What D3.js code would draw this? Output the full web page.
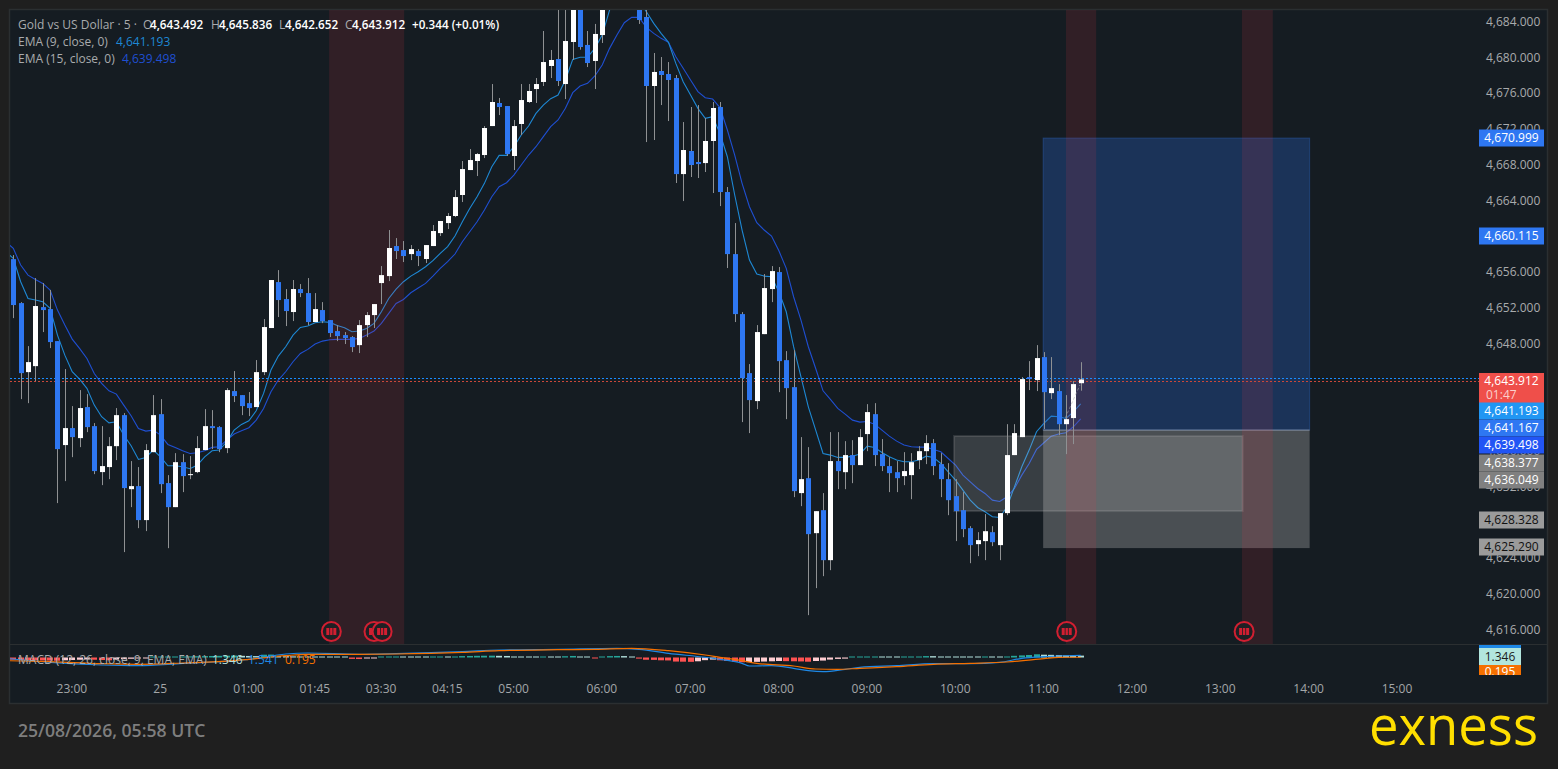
<!DOCTYPE html>
<html><head><meta charset="utf-8">
<script src="https://d3js.org/d3.v7.min.js"></script>
<style>
html,body{margin:0;padding:0;background:#1f1f1f;overflow:hidden}
svg{display:block}
text{font-family:"Open Sans",sans-serif}
</style></head><body>
<svg id="c" width="1558" height="769"></svg>
<script>
const opens=[4657.37,4652.45,4644.73,4645.40,4652.00,4651.78,4648.20,4636.57,4638.47,4637.35,
4640.82,4638.69,4633.55,4634.11,4636.45,4639.92,4631.64,4631.98,4628.18,4635.78,
4640.03,4632.32,4629.63,4634.66,4633.21,4633.55,4636.01,4638.69,4638.58,4636.23,
4642.61,4642.16,4641.26,4640.82,4644.73,4649.66,4654.80,4652.90,4651.45,4654.02,
4653.57,4650.33,4651.67,4650.55,4649.32,4648.87,4648.65,4647.75,4649.99,4651.11,
4654.69,4655.47,4658.83,4658.38,4657.93,4658.27,4657.38,4658.83,4660.28,4661.40,
4662.19,4664.54,4667.33,4668.34,4669.01,4672.25,4674.83,4674.49,4668.90,4672.48,
4674.94,4676.39,4677.18,4678.97,4679.75,4676.95,4681.65,4687.00,4681.32,4679.53,
4682.43,4686.50,4689.00,4692.00,4691.00,4688.00,4684.45,4676.73,4678.41,4678.07,
4677.62,4666.88,4669.46,4668.23,4668.11,4670.58,4674.38,4664.87,4657.93,4651.22,
4644.62,4641.49,4648.98,4654.02,4655.92,4646.07,4643.05,4631.20,4632.87,4626.72,
4629.29,4623.70,4634.78,4633.54,4635.45,4634.33,4637.80,4640.03,4635.56,4634.22,
4633.54,4633.10,4633.21,4634.89,4635.89,4636.79,4634.44,4632.76,4630.86,4629.29,
4627.28,4625.49,4625.83,4626.83,4625.38,4628.96,4635.45,4637.46,4644.17,4643.84,
4646.41,4642.38,4642.61,4638.91,4639.59,4643.49];
const closes=[4652.23,4644.62,4645.85,4652.12,4651.67,4648.09,4636.12,4638.47,4637.46,4640.71,
4638.58,4633.66,4634.22,4636.45,4639.92,4631.76,4631.98,4628.18,4636.01,4639.92,
4632.20,4629.63,4634.66,4633.10,4633.32,4636.23,4638.69,4638.47,4636.12,4642.72,
4642.05,4640.93,4640.71,4644.73,4649.77,4655.03,4652.79,4651.56,4654.02,4653.57,
4650.33,4651.78,4650.44,4649.10,4648.76,4648.54,4647.53,4649.99,4651.11,4652.34,
4655.58,4658.61,4658.27,4657.71,4658.49,4657.71,4658.94,4660.51,4661.63,4662.19,
4664.31,4667.44,4668.45,4669.12,4672.03,4674.94,4674.38,4669.12,4672.25,4675.16,
4676.17,4676.95,4679.41,4679.64,4677.29,4681.76,4687.00,4681.09,4679.30,4682.55,
4687.00,4689.00,4692.00,4691.00,4688.00,4684.11,4676.73,4678.30,4677.96,4677.40,
4666.88,4669.57,4667.89,4668.00,4670.58,4674.27,4664.87,4657.93,4651.22,4644.06,
4641.60,4649.21,4654.13,4656.03,4645.96,4642.94,4631.42,4632.76,4626.61,4629.18,
4623.70,4634.78,4633.66,4635.45,4634.33,4637.46,4640.26,4635.45,4634.22,4633.43,
4632.87,4633.66,4634.66,4635.89,4636.79,4634.22,4632.76,4630.41,4629.18,4627.17,
4625.38,4625.94,4626.94,4625.71,4628.96,4635.45,4637.91,4643.95,4643.95,4646.30,
4642.49,4642.94,4638.91,4639.47,4643.39,4643.91];
const highs=[4657.82,4652.56,4647.64,4655.25,4654.69,4653.91,4648.20,4645.07,4640.93,4642.72,
4642.27,4639.03,4638.69,4637.46,4640.71,4640.15,4634.78,4634.11,4636.68,4642.16,
4641.71,4633.21,4635.67,4635.56,4635.34,4637.57,4640.59,4640.48,4638.69,4642.94,
4644.85,4642.16,4642.50,4646.08,4650.66,4655.03,4656.14,4654.02,4655.03,4654.58,
4655.25,4653.57,4652.56,4650.55,4649.99,4649.21,4648.76,4650.55,4651.45,4652.34,
4656.59,4660.62,4659.72,4659.39,4658.94,4658.49,4658.94,4661.18,4661.63,4662.52,
4665.09,4668.34,4669.68,4669.23,4672.25,4676.95,4675.39,4674.49,4672.93,4676.95,
4676.95,4677.62,4682.88,4680.76,4686.00,4686.50,4688.00,4688.00,4682.88,4683.67,
4688.00,4690.00,4693.00,4694.00,4692.50,4689.00,4685.50,4680.42,4679.97,4679.41,
4677.96,4672.70,4674.38,4674.60,4673.15,4674.94,4674.94,4665.43,4661.40,4651.44,
4645.63,4649.99,4655.70,4656.59,4656.48,4647.08,4647.19,4637.46,4636.34,4629.18,
4631.20,4638.02,4638.02,4637.01,4637.12,4638.36,4641.15,4641.26,4637.24,4635.22,
4634.78,4635.78,4635.67,4636.45,4637.68,4637.24,4635.67,4634.55,4632.76,4631.31,
4627.50,4626.83,4628.85,4627.50,4628.96,4638.91,4638.91,4644.17,4645.96,4647.75,
4646.97,4646.41,4643.39,4642.16,4643.73,4645.84];
const lows=[4650.77,4641.71,4641.26,4643.73,4649.21,4647.42,4630.08,4632.54,4635.22,4636.34,
4638.02,4633.32,4632.09,4632.76,4634.89,4624.60,4629.63,4627.28,4626.95,4635.78,
4631.20,4625.04,4629.63,4631.31,4632.76,4633.43,4636.01,4636.12,4635.78,4635.67,
4641.38,4639.92,4639.81,4640.82,4644.40,4649.66,4650.89,4649.88,4650.44,4653.12,
4649.99,4650.33,4650.21,4648.65,4648.20,4647.87,4646.97,4646.86,4648.65,4649.66,
4652.34,4654.91,4657.38,4657.04,4657.26,4656.59,4656.93,4658.83,4659.95,4660.73,
4662.07,4663.75,4667.33,4666.66,4668.67,4672.25,4673.48,4668.90,4667.33,4671.25,
4674.83,4674.83,4676.73,4677.62,4676.73,4675.27,4679.64,4680.79,4678.85,4676.39,
4681.54,4685.60,4688.00,4690.00,4687.00,4683.67,4670.46,4670.69,4674.60,4672.81,
4665.88,4663.86,4666.55,4666.44,4667.11,4664.76,4663.30,4656.37,4650.33,4639.14,
4637.91,4640.59,4648.98,4652.56,4642.49,4639.47,4630.75,4629.74,4617.55,4620.57,
4621.91,4622.58,4631.64,4631.64,4632.31,4634.33,4635.89,4634.22,4633.66,4631.31,
4631.31,4632.09,4630.52,4633.88,4634.44,4633.21,4630.75,4628.73,4625.83,4626.27,
4623.36,4624.15,4623.70,4625.27,4623.70,4628.73,4635.45,4637.46,4642.72,4642.61,
4638.36,4641.71,4637.68,4635.56,4636.68,4642.65];
// first entry of each EMA sits one bar left of the first candle
const ema9=[4658.19,4657.45,4654.84,4652.97,4652.79,4652.60,4651.86,4648.87,4646.63,4644.77,4643.95,
4642.91,4641.04,4639.74,4639.06,4639.18,4637.69,4636.49,4634.96,4635.19,4636.01,
4635.26,4634.25,4634.25,4634.14,4633.92,4634.33,4635.26,4635.93,4636.01,4636.94,
4638.24,4638.88,4639.29,4640.41,4642.35,4644.96,4646.52,4647.57,4648.87,4649.73,
4649.88,4650.25,4650.36,4650.29,4649.95,4649.69,4649.25,4649.32,4649.62,4650.18,
4651.48,4652.97,4654.00,4654.84,4655.47,4655.96,4656.52,4657.19,4658.01,4658.76,
4659.95,4661.55,4663.04,4664.35,4665.84,4667.70,4668.97,4668.97,4669.94,4671.25,
4672.25,4673.67,4674.60,4675.31,4675.72,4677.40,4679.71,4679.94,4679.94,4680.94,
4682.43,4685.23,4687.00,4688.00,4688.00,4686.30,4685.04,4683.74,4682.62,4681.61,
4679.26,4677.21,4675.72,4674.23,4673.11,4673.30,4671.43,4668.82,4664.54,4660.62,
4657.26,4655.70,4655.47,4655.40,4653.72,4651.48,4647.57,4644.21,4640.85,4638.24,
4635.63,4635.45,4635.19,4635.19,4635.33,4635.56,4636.45,4636.30,4635.74,4635.26,
4634.89,4634.70,4634.70,4634.89,4635.33,4635.19,4634.51,4633.58,4632.65,4631.53,
4630.41,4629.59,4629.11,4628.55,4628.47,4629.67,4631.90,4634.14,4636.01,4638.06,
4638.99,4639.81,4639.73,4639.55,4640.29,4641.19];
const ema15=[4659.31,4658.57,4656.70,4655.58,4655.10,4654.65,4653.91,4651.67,4649.99,4648.42,4647.38,
4646.26,4644.58,4643.47,4642.64,4642.27,4641.04,4639.85,4638.43,4638.13,4638.24,
4637.69,4636.64,4636.31,4635.93,4635.63,4635.71,4635.93,4636.31,4636.38,4637.13,
4637.80,4638.17,4638.51,4639.36,4640.67,4642.53,4643.84,4644.77,4645.89,4646.82,
4647.27,4647.87,4648.20,4648.35,4648.39,4648.39,4648.39,4648.50,4648.87,4649.32,
4650.18,4651.30,4652.41,4652.86,4653.61,4654.13,4654.65,4655.47,4656.33,4657.08,
4657.94,4659.31,4660.43,4661.55,4662.86,4664.35,4665.47,4665.91,4666.77,4667.89,
4669.01,4669.94,4671.06,4672.18,4672.93,4674.23,4675.98,4676.73,4677.03,4677.85,
4679.08,4680.94,4682.43,4683.81,4684.41,4684.41,4683.29,4682.62,4682.06,4681.61,
4680.01,4678.71,4677.40,4676.10,4675.42,4675.27,4674.31,4671.81,4669.01,4665.84,
4663.23,4661.44,4660.62,4659.95,4658.30,4656.33,4653.16,4650.55,4647.57,4645.14,
4642.64,4641.67,4640.67,4640.03,4639.36,4639.14,4639.21,4638.91,4638.24,4637.57,
4637.01,4636.57,4636.38,4636.34,4636.34,4636.08,4635.82,4635.07,4634.33,4633.21,
4632.46,4631.72,4631.16,4630.41,4630.26,4630.79,4631.72,4633.21,4634.51,4636.08,
4636.83,4637.57,4637.80,4637.94,4638.62,4639.50];
const histogram=[-1.6,-1.8,-1.9,-2.0,-2.1,-2.2,-2.3,-2.0,-1.8,-1.6,
-1.4,-1.6,-1.8,-2.0,-1.5,-1.2,-0.9,-0.6,-0.4,0.3,
0.4,0.5,0.6,0.7,0.8,0.9,1.0,1.1,1.2,1.3,
1.4,1.2,1.1,1.0,2.0,2.1,1.0,0.9,0.8,0.7,
0.6,0.5,0.45,0.4,0.35,0.3,-1.0,-1.1,-0.5,-0.35,
0.3,0.35,0.4,0.35,0.33,0.3,0.28,0.3,0.35,0.3,
0.35,1.0,1.1,1.2,1.25,1.3,1.2,1.1,0.4,0.35,
0.33,0.3,0.35,0.33,0.3,0.9,1.1,0.5,0.4,-0.4,
0.3,1.0,1.1,1.0,0.3,-0.8,-1.6,-1.7,-2.0,-2.1,
-2.9,-3.0,-3.1,-2.7,-1.9,-1.5,-2.0,-2.5,-3.0,-3.4,
-3.3,-3.1,-2.9,-2.7,-2.5,-2.6,-2.7,-2.8,-3.0,-2.5,
-2.2,-1.5,-1.0,-0.8,0.3,0.5,0.6,0.7,0.6,0.5,
0.4,0.5,0.55,0.6,1.0,0.95,0.5,0.45,0.4,0.3,
0.28,0.25,0.3,0.28,0.26,0.7,1.2,1.5,1.8,2.3,
2.0,1.9,1.7,1.5,1.4,1.346];
const macdBars=[-1,5,12,17,23,30,32,37,40,47,52,61,66,74,82,85,89,94,96,99,100,103,106,108,110,113,115,120,125,130,134,137,140,142,145];
const macdLine=[-0.59,-3.45,-5.35,-5.83,-4.16,-2.26,-1.31,2.50,3.22,2.27,2.74,4.17,5.36,5.84,6.55,5.84,2.98,0.12,-1.31,-4.16,-6.07,-5.83,-7.73,-9.40,-10.12,-8.45,-7.02,-5.83,-4.40,-4.40,-3.45,-0.59,0.60,1.07,1.541];
const signalBars=[-1,5,12,17,23,30,32,37,40,47,52,61,66,74,79,84,89,94,96,99,101,106,109,112,115,120,125,130,135,140,142,145];
const signalLine=[-2.26,-2.97,-4.40,-4.88,-3.93,-2.26,-1.31,1.31,2.27,2.27,2.50,3.69,4.88,5.60,5.84,6.55,4.88,1.79,0.12,-2.26,-4.16,-6.07,-8.21,-8.45,-7.73,-6.54,-4.88,-4.16,-3.21,-0.83,0.12,0.195];
const priceTicks=d3.range(4616,4685,4);
const timeBars=[8,20,32,41,50,59,68,80,92,104,116,128,140,152,164,176,188];
const timeLabels=["23:00","25","01:00","01:45","03:30","04:15","05:00","06:00","07:00","08:00","09:00","10:00","11:00","12:00","13:00","14:00","15:00"];
const sessionBands=[[42.9,53.1],[143,147.1],[166.9,171.1]];
const markerBars=[43.2,49,50.1,143.1,167.2];
const lastPrice=4644.02, askPrice=4643.69;
// position tool (bar index / price extents)
const targetZone={x0:139.9,x1:176.1,top:4670.91,bottom:4638.25};
const stopZone={x0:139.9,x1:176.1,top:4638.25,bottom:4625.05};
const rangeBox={x0:127.8,x1:167,top:4637.58,bottom:4629.19};
// price-axis labels: text, box colour, text colour
const axisLabels=[
 ["4,670.999","#2e77f2","#fff",138],
 ["4,660.115","#2e77f2","#fff",236],
 ["4,641.193","#2196f3","#fff",411],
 ["4,641.167","#2e77f2","#fff",428],
 ["4,639.498","#2255f5","#fff",445],
 ["4,638.377","#808080","#fff",463],
 ["4,636.049","#808080","#fff",480],
 ["4,628.328","#9b9b9b","#111",520],
 ["4,625.290","#9b9b9b","#111",547]];

const svg=d3.select("#c");
const W=1558,H=769,L=10,R=1547,T=10,B=703,MID=644;
const C={page:"#1f1f1f",panel:"#151c22",border:"#2b2f31",up:"#ffffff",down:"#2e77f2",wick:"#8f9193",e9:"#1e88d4",e15:"#1f4fd1",macd:"#1e88e5",sig:"#f57000"};
const x=d3.scaleLinear().domain([0,145]).range([13.3,1080.7]);
const y=d3.scaleLinear().domain([4684,4616]).range([21,629]);
const ym=d3.scaleLinear().domain([0,1]).range([657.5,656.1]);

const defs=svg.append("defs");
defs.append("clipPath").attr("id","main").append("rect").attr("x",L).attr("y",T).attr("width",1469).attr("height",MID-T);
defs.append("clipPath").attr("id","lab").append("rect").attr("x",1470).attr("y",645).attr("width",70).attr("height",30);

svg.append("rect").attr("width",W).attr("height",H).attr("fill",C.page);
svg.append("rect").attr("x",L-.5).attr("y",T-.5).attr("width",R-L+1).attr("height",B-T+1).attr("fill",C.panel).attr("stroke",C.border).attr("stroke-width",1.5);

const gm=svg.append("g").attr("clip-path","url(#main)");
// EMAs
const lineOf=d3.line().x((d,i)=>x(i-1)).y(d=>y(d));
gm.append("path").attr("d",lineOf(ema15)).attr("fill","none").attr("stroke",C.e15).attr("stroke-width",1.1);
gm.append("path").attr("d",lineOf(ema9)).attr("fill","none").attr("stroke",C.e9).attr("stroke-width",1.1);
// zones
const zone=(z,fill)=>gm.append("rect").attr("x",x(z.x0)).attr("width",x(z.x1)-x(z.x0)).attr("y",y(z.top)).attr("height",y(z.bottom)-y(z.top)).attr("fill",fill);
zone(targetZone,"rgba(40,100,200,0.33)").attr("stroke","rgba(50,110,210,0.35)").attr("stroke-width",1);
zone(stopZone,"rgba(200,200,200,0.30)");
zone(rangeBox,"rgba(200,200,200,0.20)").attr("stroke","rgba(200,200,200,0.16)").attr("stroke-width",2);
gm.append("line").attr("x1",x(targetZone.x0)).attr("x2",x(targetZone.x1)).attr("y1",y(targetZone.bottom)).attr("y2",y(targetZone.bottom)).attr("stroke","rgba(200,200,200,.5)");
// bands
gm.selectAll(".band").data(sessionBands).join("rect").attr("x",d=>x(d[0])).attr("width",d=>x(d[1])-x(d[0])).attr("y",T).attr("height",MID-T).attr("fill","rgba(242,54,69,0.13)");
// price lines
[[askPrice,"#c9483a"],[lastPrice,"#1b8cff"]].forEach(([p,c])=>{
 gm.append("line").attr("x1",L).attr("x2",1479).attr("y1",Math.round(y(p))+.5).attr("y2",Math.round(y(p))+.5).attr("stroke",c).attr("stroke-width",1).attr("stroke-dasharray","2 2").attr("shape-rendering","crispEdges");
});
// candles
const bars=d3.range(opens.length);
gm.selectAll(".w").data(bars).join("line").attr("x1",i=>Math.round(x(i))+.5).attr("x2",i=>Math.round(x(i))+.5).attr("y1",i=>y(highs[i])).attr("y2",i=>y(lows[i])).attr("stroke",C.wick).attr("stroke-width",1);
gm.selectAll(".b").data(bars).join("rect").attr("x",i=>Math.round(x(i))-2).attr("width",5)
 .attr("y",i=>y(Math.max(opens[i],closes[i]))).attr("height",i=>Math.max(1,Math.abs(y(opens[i])-y(closes[i]))))
 .attr("fill",i=>closes[i]>=opens[i]?C.up:C.down);
// dashed trace on the last bars
gm.append("line").attr("x1",x(142.9)).attr("x2",x(144.9)).attr("y1",y(4639.6)).attr("y2",y(4643.3)).attr("stroke","rgba(170,170,170,.55)").attr("stroke-dasharray","3 2");
// markers
const mk=gm.selectAll(".m").data(markerBars).join("g").attr("transform",d=>`translate(${x(d)},631.5)`);
mk.append("circle").attr("r",9.5).attr("fill","#1f2024").attr("stroke","#d21f31").attr("stroke-width",2);
mk.append("rect").attr("x",-5).attr("y",-3.5).attr("width",10).attr("height",7).attr("fill","#d21f31");
mk.selectAll(".s").data([-1.6,1.6]).join("rect").attr("x",d=>d-.4).attr("y",-3.5).attr("width",.8).attr("height",7).attr("fill","#1f2024");

// divider
svg.append("line").attr("x1",L).attr("x2",R).attr("y1",MID+.5).attr("y2",MID+.5).attr("stroke",C.border).attr("stroke-width",1);

// MACD
const tone=i=>{const v=histogram[i],p=i?histogram[i-1]:0;return v>=0?(v>=p?"#26a69a":"#b2dfdb"):(v<p?"#ff5252":"#ffcdd2");};
svg.append("g").selectAll("rect").data(bars).join("rect").attr("x",i=>Math.round(x(i))-3).attr("width",6)
 .attr("y",i=>histogram[i]>=0?Math.min(ym(histogram[i]),ym(0)-1):ym(0))
 .attr("height",i=>Math.max(1,Math.abs(ym(histogram[i])-ym(0)))).attr("fill",tone);
const mline=(b,v,c)=>svg.append("path").attr("d",d3.line().x((d,i)=>x(b[i])).y(d=>ym(d)).curve(d3.curveMonotoneX)(v)).attr("fill","none").attr("stroke",c).attr("stroke-width",1.2);
defs.append("clipPath").attr("id","mc").append("rect").attr("x",L).attr("y",MID).attr("width",1469).attr("height",B-MID);
mline(macdBars,macdLine,C.macd).attr("clip-path","url(#mc)");
mline(signalBars,signalLine,C.sig).attr("clip-path","url(#mc)");

// legends
const lg=svg.append("g").attr("font-size",12);
function seq(yb,parts){parts.forEach(p=>{lg.append("text").attr("x",p[0]).attr("y",yb).attr("fill",p[2]).attr("font-weight",p[3]||400).attr("font-size",p[3]?11.7:12).text(p[1]);});}
const g1="#a9abad",g2="#ffffff";
seq(29,[[18,"Gold vs US Dollar · 5 ·",g1],[143,"O",g1],[150,"4,643.492",g2,600],[211,"H",g1],[219,"4,645.836",g2,600],[279,"L",g1],[285,"4,642.652",g2,600],[345,"C",g1],[352,"4,643.912",g2,600],[412,"+0.344 (+0.01%)",g2,600]]);
seq(46,[[18,"EMA (9, close, 0)",g1],[116,"4,641.193","#1e88d4"]]);
seq(63,[[18,"EMA (15, close, 0)",g1],[122,"4,639.498","#1f4fd1"]]);
seq(664,[[18,"MACD (12, 26, close, 9, EMA, EMA)",g1],[212,"1.346","#b2dfdb"],[248,"1.541","#1e88e5"],[285,"0.195","#f57000"]]);

// price axis
const axR=d3.axisRight(y).tickValues(priceTicks).tickFormat(d3.format(",.3f")).tickSize(0).tickPadding(6);
const ga=svg.append("g").attr("transform","translate(1480,0.4)").call(axR);
ga.select(".domain").remove();
ga.selectAll("text").attr("font-family",'"Open Sans",sans-serif').attr("font-size",12).attr("fill","#a9abad");

// time axis
const axB=d3.axisBottom(x).tickValues(timeBars).tickFormat((d,i)=>timeLabels[i]).tickSize(0).tickPadding(0);
const gt=svg.append("g").attr("transform","translate(-0.8,684.5)").call(axB);
gt.select(".domain").remove();
gt.selectAll("text").attr("font-family",'"Open Sans",sans-serif').attr("font-size",12).attr("fill","#a3a6a8");

// price labels
const box=(txt,fill,col,cy)=>{
 svg.append("rect").attr("x",1479).attr("y",cy-8.5).attr("width",65).attr("height",17).attr("fill",fill);
 svg.append("text").attr("x",1511.5).attr("y",cy+4.2).attr("text-anchor","middle").attr("font-size",12).attr("fill",col).attr("font-weight",500).text(txt);
};
svg.append("rect").attr("x",1479).attr("y",373).attr("width",65).attr("height",30).attr("fill","#ef4f4a");
svg.append("text").attr("x",1511.5).attr("y",385).attr("text-anchor","middle").attr("font-size",12).attr("fill","#fff").attr("font-weight",500).text("4,643.912");
svg.append("text").attr("x",1486).attr("y",399).attr("font-size",12).attr("fill","#fbd0cc").text("01:47");
axisLabels.forEach(d=>box(d[0],d[1],d[2],d[3]));

// MACD price labels
const gl=svg.append("g").attr("clip-path","url(#lab)");
gl.append("rect").attr("x",1479).attr("y",645).attr("width",42).attr("height",4).attr("fill","#1e88e5");
gl.append("rect").attr("x",1479).attr("y",665).attr("width",42).attr("height",12).attr("fill","#f57000");
gl.append("text").attr("x",1500).attr("y",676).attr("text-anchor","middle").attr("font-size",12).attr("fill","#fff").text("0.195");
gl.append("rect").attr("x",1479).attr("y",648).attr("width",42).attr("height",17).attr("fill","#b2e6de");
gl.append("text").attr("x",1500).attr("y",660.5).attr("text-anchor","middle").attr("font-size",12).attr("fill","#1a1a1a").text("1.346");

// footer
svg.append("text").attr("x",18).attr("y",737).attr("font-size",17.6).attr("font-weight",600).attr("fill","#7e7e7e").text("25/08/2026, 05:58 UTC");
svg.append("text").attr("x",1369).attr("y",745).attr("font-family","Inter,sans-serif").attr("font-size",54).attr("font-weight",500).attr("fill","#ffdf00").attr("textLength",169).attr("lengthAdjust","spacingAndGlyphs").text("exness");
</script></body></html>
